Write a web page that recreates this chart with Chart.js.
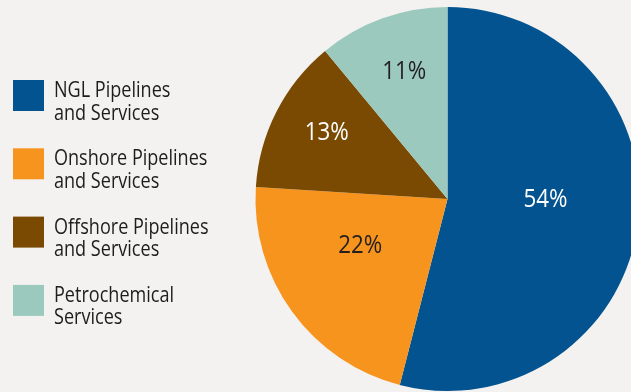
<!DOCTYPE html>
<html>
<head>
<meta charset="utf-8">
<script src="https://cdn.jsdelivr.net/npm/chart.js@4/dist/chart.umd.min.js"></script>
<style>
  html, body { margin: 0; padding: 0; background: #f3f2f0; overflow: hidden; }
  #wrap { position: relative; width: 660px; height: 392px; }
</style>
</head>
<body>
<div id="wrap"><canvas id="chart"></canvas></div>
<script>
// Segment names (one array entry per legend line) and their shares in percent
const categories = [
  ['NGL Pipelines', 'and Services'],
  ['Onshore Pipelines', 'and Services'],
  ['Offshore Pipelines', 'and Services'],
  ['Petrochemical', 'Services']
];
const shares = [54, 22, 13, 11];
const sliceColors = ['#02538f', '#f7941d', '#7a4a02', '#9cc9bd'];
const valueTextColors = ['#ffffff', '#231f20', '#ffffff', '#231f20'];

const FONT = '"Open Sans", "Noto Sans", sans-serif';
const SQUEEZE = 0.86; // narrow the sans face toward a condensed look

function squeezedText(ctx, text, x, y) {
  ctx.save();
  ctx.translate(x, y);
  ctx.scale(SQUEEZE, 1);
  ctx.fillText(text, 0, 0);
  ctx.restore();
}

// Percent labels inside each slice
const sliceLabels = {
  id: 'sliceLabels',
  afterDatasetsDraw(chart, args, opts) {
    const ctx = chart.ctx;
    const meta = chart.getDatasetMeta(0);
    const values = chart.data.datasets[0].data;
    ctx.save();
    ctx.font = '26px ' + FONT;
    ctx.textAlign = 'center';
    ctx.textBaseline = 'middle';
    meta.data.forEach((arc, i) => {
      const p = arc.getProps(['x', 'y', 'startAngle', 'endAngle', 'outerRadius'], true);
      const place = opts.placement[i];
      const mid = (p.startAngle + p.endAngle) / 2 + place.shift * Math.PI / 180;
      const r = p.outerRadius * place.radius;
      ctx.fillStyle = opts.colors[i];
      squeezedText(ctx, values[i] + '%', p.x + Math.cos(mid) * r, p.y + Math.sin(mid) * r);
    });
    ctx.restore();
  }
};

// Square-swatch legend on the left with two-line names
const sideLegend = {
  id: 'sideLegend',
  afterDraw(chart, args, opts) {
    const ctx = chart.ctx;
    const labels = chart.data.labels;
    const colors = chart.data.datasets[0].backgroundColor;
    ctx.save();
    ctx.font = '21px ' + FONT;
    ctx.textAlign = 'left';
    ctx.textBaseline = 'alphabetic';
    labels.forEach((lines, i) => {
      const top = opts.top + i * opts.step;
      ctx.fillStyle = colors[i];
      ctx.fillRect(opts.left, top, opts.box, opts.box);
      ctx.fillStyle = '#1e1c1c';
      lines.forEach((line, j) => {
        squeezedText(ctx, line, opts.textX, top + opts.firstBaseline + j * opts.lineHeight);
      });
    });
    ctx.restore();
  }
};

new Chart(document.getElementById('chart'), {
  type: 'pie',
  data: {
    labels: categories,
    datasets: [{
      data: shares,
      backgroundColor: sliceColors,
      borderWidth: 0
    }]
  },
  options: {
    responsive: true,
    maintainAspectRatio: false,
    animation: false,
    layout: { padding: { left: 255.5, right: 20.5, top: 7, bottom: 1 } },
    plugins: {
      legend: { display: false },
      tooltip: { enabled: false },
      sliceLabels: {
        colors: valueTextColors,
        placement: [
          { radius: 0.51, shift: -6.6 },
          { radius: 0.516, shift: 7.7 },
          { radius: 0.717, shift: 1.7 },
          { radius: 0.70, shift: 1.0 }
        ]
      },
      sideLegend: {
        left: 13, top: 80, step: 68.3, box: 31,
        textX: 54, firstBaseline: 17, lineHeight: 22.5
      }
    }
  },
  plugins: [sliceLabels, sideLegend]
});
</script>
</body>
</html>
